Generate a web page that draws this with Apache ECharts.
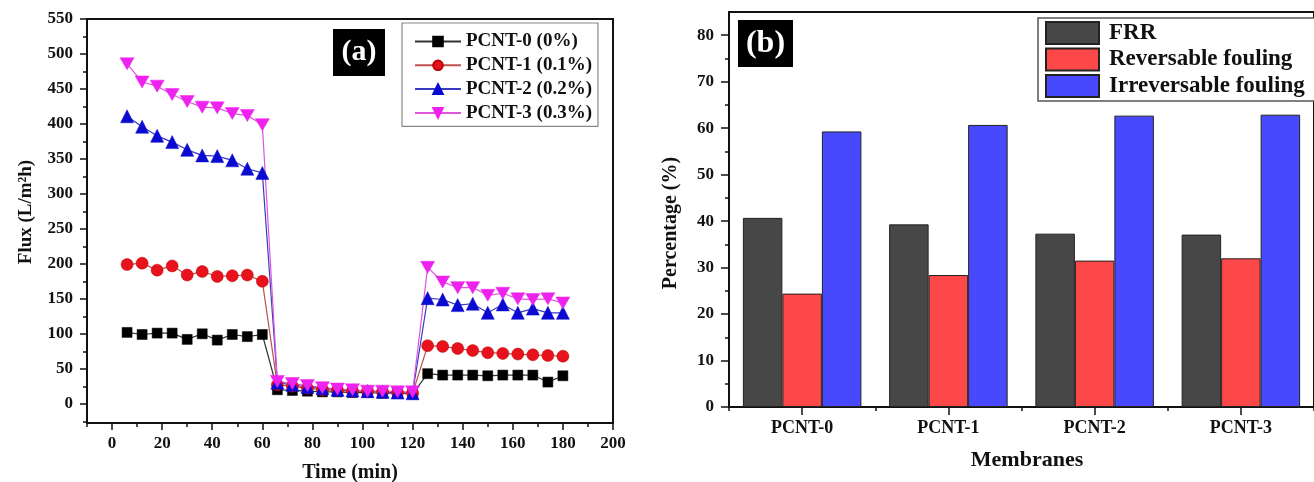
<!DOCTYPE html>
<html>
<head>
<meta charset="utf-8">
<script src="https://cdn.jsdelivr.net/npm/echarts@6/dist/echarts.min.js"></script>
<style>
html,body{margin:0;padding:0;background:#fff;}
#c{width:1314px;height:482px;}
</style>
</head>
<body>
<div id="c"></div>
<script>
// ---- Data (a) ----
const timeMin = [6,12,18,24,30,36,42,48,54,60,66,72,78,84,90,96,102,108,114,120,126,132,138,144,150,156,162,168,174,180];
const pcnt0 = [102,99,101,101,92,100,91,99,96,99, 20,19,18,17,17,16,16,15,15,14, 43,41,41,41,40,41,41,41,31,40];
const pcnt1 = [199,201,191,197,184,189,182,183,184,175, 27,25,22,20,19,18,18,17,16,15, 83,82,79,76,73,72,71,70,69,68];
const pcnt2 = [411,396,383,374,363,355,354,348,336,330, 30,27,24,22,20,19,18,17,16,15, 151,149,141,143,130,142,130,136,130,130];
const pcnt3 = [486,460,454,442,432,424,423,415,412,399, 32,29,26,23,21,20,18,18,17,17, 195,174,166,166,155,158,150,149,150,144];
const seriesNamesA = ['PCNT-0 (0%)','PCNT-1 (0.1%)','PCNT-2 (0.2%)','PCNT-3 (0.3%)'];
const xMajorTicksA = [0,20,40,60,80,100,120,140,160,180,200];
const xMinorTicksA = [-10,10,30,50,70,90,110,130,150,170,190];
const yMajorTicksA = [0,50,100,150,200,250,300,350,400,450,500,550];
const yMinorTicksA = [-25,25,75,125,175,225,275,325,375,425,475,525];

// ---- Data (b) ----
const membranes = ['PCNT-0','PCNT-1','PCNT-2','PCNT-3'];
const frr = [40.7, 39.3, 37.3, 37.1];
const reversible = [24.4, 28.4, 31.5, 32.0];
const irreversible = [59.3, 60.7, 62.7, 62.9];
const seriesNamesB = ['FRR','Reversable fouling','Irreversable fouling'];
const yMajorTicksB = [0,10,20,30,40,50,60,70,80];
const yMinorTicksB = [5,15,25,35,45,55,65,75];

const FONT = '"Liberation Serif","Times New Roman",serif';
const lbl = (size) => ({fontFamily: FONT, fontWeight: 'bold', fontSize: size, color: '#111'});
const zip = (xs, ys) => xs.map((x, i) => [x, ys[i]]);

const chart = echarts.init(document.getElementById('c'), null, {renderer: 'canvas'});

const invTri = 'path://M0,0 L20,0 L10,17 Z';

const lineSeries = [
  {name: seriesNamesA[0], data: zip(timeMin, pcnt0), symbol: 'rect', symbolSize: 10, color: '#000', lineColor: '#333'},
  {name: seriesNamesA[1], data: zip(timeMin, pcnt1), symbol: 'circle', symbolSize: 12, color: '#e8121c', lineColor: '#c0504d'},
  {name: seriesNamesA[2], data: zip(timeMin, pcnt2), symbol: 'triangle', symbolSize: 13, color: '#0a0ad0', lineColor: '#3a3ac0'},
  {name: seriesNamesA[3], data: zip(timeMin, pcnt3), symbol: invTri, symbolSize: [14, 12], color: '#ee22ee', lineColor: '#dd55dd'}
].map(s => ({
  type: 'line', name: s.name, xAxisIndex: 0, yAxisIndex: 0, data: s.data,
  symbol: s.symbol, symbolSize: s.symbolSize, showSymbol: true,
  lineStyle: {color: s.lineColor, width: 1.2},
  itemStyle: {color: s.color, borderColor: s.color === '#e8121c' ? '#b00' : s.color, borderWidth: 0.5},
  emphasis: {disabled: true}, z: 3
}));

const barColors = ['#474747', '#fc4848', '#4848fc'];
const barData = [frr, reversible, irreversible];
const barSeries = seriesNamesB.map((n, i) => ({
  type: 'bar', name: n, xAxisIndex: 2, yAxisIndex: 2, data: barData[i],
  barWidth: 39.5, barGap: '0%',
  itemStyle: {color: barColors[i], borderColor: '#222', borderWidth: 1},
  emphasis: {disabled: true}
}));

const mainLine = {show: true, onZero: false, lineStyle: {color: '#111', width: 2}};
const noLine = {show: false, onZero: false};

const option = {
  animation: false,
  backgroundColor: '#fff',
  grid: [
    {left: 87, top: 19, width: 526, height: 404, show: true, borderColor: '#111', borderWidth: 2, backgroundColor: 'transparent'},
    {left: 729, top: 12, width: 593, height: 395, show: true, borderColor: '#111', borderWidth: 2, backgroundColor: 'transparent'}
  ],
  xAxis: [
    {type: 'value', gridIndex: 0, min: -10, max: 200, position: 'bottom',
     axisLine: mainLine,
     axisTick: {show: true, customValues: xMajorTicksA, length: 7, lineStyle: {color: '#111', width: 1.5}},
     axisLabel: {customValues: xMajorTicksA, margin: 12, ...lbl(17)},
     splitLine: {show: false}},
    {type: 'value', gridIndex: 0, min: -10, max: 200, position: 'bottom',
     axisLine: noLine,
     axisTick: {show: true, customValues: xMinorTicksA, length: 4, lineStyle: {color: '#111', width: 1.5}},
     axisLabel: {show: false}, splitLine: {show: false}},
    {type: 'category', gridIndex: 1, data: membranes, position: 'bottom',
     axisLine: mainLine,
     axisTick: {show: true, length: 4, lineStyle: {color: '#111', width: 1.5}},
     axisLabel: {margin: 12, ...lbl(18)}, splitLine: {show: false}},
    {type: 'category', gridIndex: 1, data: membranes, position: 'bottom',
     axisLine: noLine,
     axisTick: {show: true, alignWithLabel: true, length: 8, lineStyle: {color: '#111', width: 1.5}},
     axisLabel: {show: false}, splitLine: {show: false}}
  ],
  yAxis: [
    {type: 'value', gridIndex: 0, min: -27.5, max: 550, position: 'left',
     axisLine: mainLine,
     axisTick: {show: true, customValues: yMajorTicksA, length: 7, lineStyle: {color: '#111', width: 1.5}},
     axisLabel: {customValues: yMajorTicksA, margin: 14, ...lbl(17)},
     splitLine: {show: false}},
    {type: 'value', gridIndex: 0, min: -27.5, max: 550, position: 'left',
     axisLine: noLine,
     axisTick: {show: true, customValues: yMinorTicksA, length: 4, lineStyle: {color: '#111', width: 1.5}},
     axisLabel: {show: false}, splitLine: {show: false}},
    {type: 'value', gridIndex: 1, min: 0, max: 85, position: 'left',
     axisLine: mainLine,
     axisTick: {show: true, customValues: yMajorTicksB, length: 8, lineStyle: {color: '#111', width: 1.5}},
     axisLabel: {customValues: yMajorTicksB, margin: 15, ...lbl(17)},
     splitLine: {show: false}},
    {type: 'value', gridIndex: 1, min: 0, max: 85, position: 'left',
     axisLine: noLine,
     axisTick: {show: true, customValues: yMinorTicksB, length: 4, lineStyle: {color: '#111', width: 1.5}},
     axisLabel: {show: false}, splitLine: {show: false}}
  ],
  legend: [
    {data: seriesNamesA, orient: 'vertical', left: 402, top: 23,
     padding: [9, 6, 4, 12], itemWidth: 46, itemHeight: 12, itemGap: 4.8,
     borderColor: '#888', borderWidth: 1.2, backgroundColor: '#fff',
     textStyle: {...lbl(19), lineHeight: 18}, selectedMode: false},
    {data: seriesNamesB, orient: 'vertical', left: 1038, top: 18,
     padding: [3, 30, 3, 7], itemWidth: 53, itemHeight: 22, itemGap: 2.5, icon: 'rect',
     borderColor: '#555', borderWidth: 1.5, backgroundColor: '#fff',
     textStyle: {...lbl(23), padding: [0, 0, 0, 5]}, selectedMode: false}
  ],
  graphic: [
    {type: 'rect', shape: {x: 333, y: 29, width: 52, height: 47}, style: {fill: '#000'}, z: 10},
    {type: 'text', x: 359, y: 52.5, style: {text: '(a)', fill: '#fff', font: 'bold 30px ' + FONT, align: 'center', verticalAlign: 'middle'}, z: 11},
    {type: 'rect', shape: {x: 738, y: 20, width: 55, height: 47}, style: {fill: '#000'}, z: 10},
    {type: 'text', x: 765.5, y: 43.5, style: {text: '(b)', fill: '#fff', font: 'bold 32px ' + FONT, align: 'center', verticalAlign: 'middle'}, z: 11},
    {type: 'text', x: 26, y: 212, rotation: Math.PI / 2, style: {text: 'Flux (L/m²h)', fill: '#111', font: 'bold 19px ' + FONT, align: 'center', verticalAlign: 'middle'}},
    {type: 'text', x: 350, y: 473, style: {text: 'Time (min)', fill: '#111', font: 'bold 20px ' + FONT, align: 'center', verticalAlign: 'middle'}},
    {type: 'text', x: 671, y: 223, rotation: Math.PI / 2, style: {text: 'Percentage (%)', fill: '#111', font: 'bold 20px ' + FONT, align: 'center', verticalAlign: 'middle'}},
    {type: 'text', x: 1027, y: 460, style: {text: 'Membranes', fill: '#111', font: 'bold 22px ' + FONT, align: 'center', verticalAlign: 'middle'}}
  ],
  series: [...lineSeries, ...barSeries]
};
chart.setOption(option);
</script>
</body>
</html>
